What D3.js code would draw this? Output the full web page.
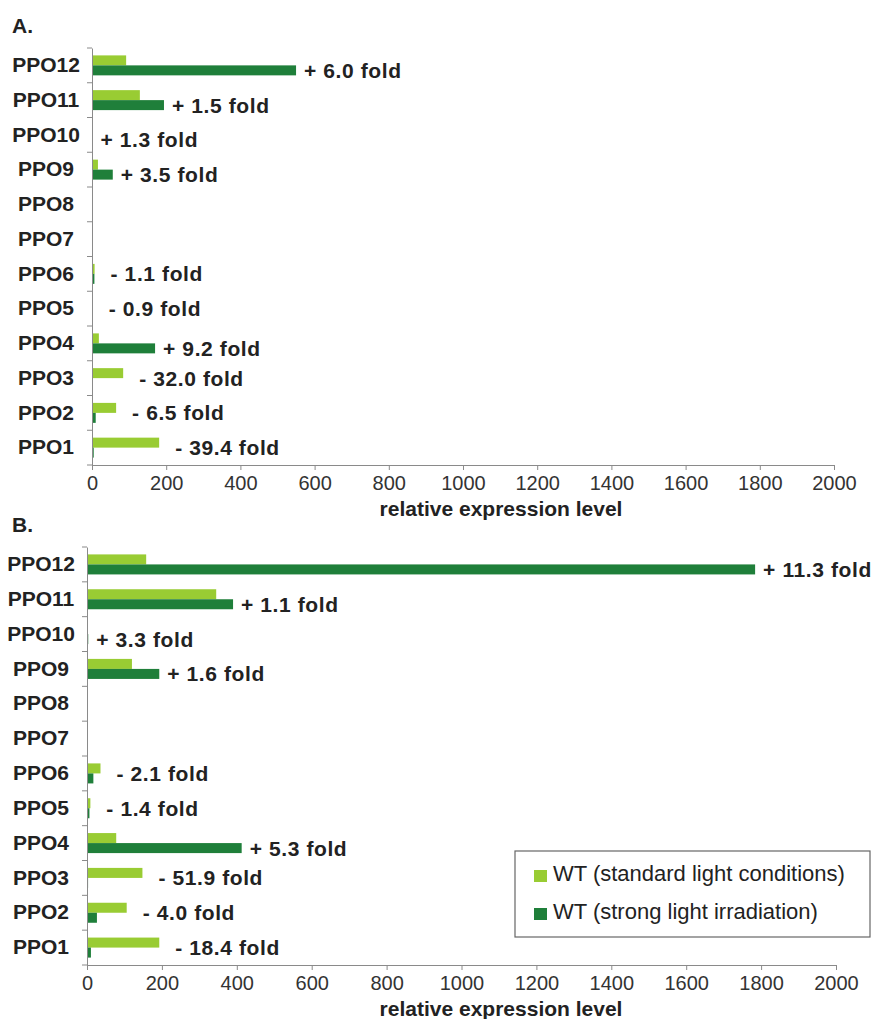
<!DOCTYPE html>
<html>
<head>
<meta charset="utf-8">
<script src="https://cdn.jsdelivr.net/npm/d3@7"></script>
<style>
  body { margin: 0; background: #fff; }
  svg { display: block; font-family: "Liberation Sans", Arial, sans-serif; }
  .axis path, .axis line { stroke: #8a8a8a; }
</style>
</head>
<body>
<div id="container"></div>
<script>
/* DATA */
const categories = ["PPO1", "PPO2", "PPO3", "PPO4", "PPO5", "PPO6",
                    "PPO7", "PPO8", "PPO9", "PPO10", "PPO11", "PPO12"];
const series = ["WT (standard light conditions)", "WT (strong light irradiation)"];

// panel A
const standardA = [181, 65, 84, 18.5, 2, 7, 0, 0, 16, 1, 129, 92];
const strongA   = [4.6, 10, 2.6, 170, 2.2, 6.5, 0, 0, 56, 1.3, 194, 550];
const foldA     = [-39.4, -6.5, -32.0, 9.2, -0.9, -1.1, null, null, 3.5, 1.3, 1.5, 6.0];

// panel B
const standardB = [193, 106, 148, 78, 9, 36, 0, 0, 120, 1, 345, 158];
const strongB   = [10.5, 26.5, 2.85, 413, 6.5, 17, 0, 0, 193, 3.3, 390, 1784];
const foldB     = [-18.4, -4.0, -51.9, 5.3, -1.4, -2.1, null, null, 1.6, 3.3, 1.1, 11.3];

const xTicks = [0, 200, 400, 600, 800, 1000, 1200, 1400, 1600, 1800, 2000];
const xTitle = "relative expression level";

/* CONSTANTS */
const width = 873,
      height = 1019;
const colors = ["#99cc33", "#1f7f3a"];
const textColor = "#222";

const colorScale = d3.scaleOrdinal().domain(series).range(colors);

const svg = d3.select("#container")
  .append("svg")
  .attr("width", width)
  .attr("height", height);

const drawPanel = (p) => {
  const rows = categories.map((c, i) => ({
    cat: c,
    values: [p.standard[i], p.strong[i]],
    fold: p.fold[i]
  }));

  const xScale = d3.scaleLinear()
    .domain([0, 2000])
    .range([p.left, p.right]);

  // PPO12 on top
  const yScale = d3.scaleBand()
    .domain(categories.slice().reverse())
    .range([p.top, p.bottom]);

  const ySub = d3.scaleBand()
    .domain(series)
    .range([0, yScale.bandwidth()])
    .paddingInner(0)
    .paddingOuter(0.74);

  const g = svg.append("g");

  // panel letter
  g.append("text")
    .attr("x", 12)
    .attr("y", p.top - 15)
    .attr("font-size", 21)
    .attr("font-weight", "bold")
    .attr("fill", textColor)
    .text(p.letter);

  // bars
  g.selectAll(".row")
    .data(rows)
    .join("g")
      .attr("class", "row")
      .attr("transform", d => `translate(0, ${yScale(d.cat)})`)
    .selectAll("rect")
    .data(d => d.values.map((v, k) => ({ key: series[k], value: v })))
    .join("rect")
      .attr("x", xScale(0))
      .attr("y", d => ySub(d.key))
      .attr("width", d => xScale(d.value) - xScale(0))
      .attr("height", ySub.bandwidth())
      .attr("fill", d => colorScale(d.key));

  // x axis
  const gx = g.append("g")
    .attr("class", "axis")
    .attr("transform", `translate(0, ${p.bottom})`)
    .call(d3.axisBottom(xScale)
      .tickValues(xTicks)
      .tickFormat(d3.format("d"))
      .tickSizeOuter(0).tickSize(5).tickPadding(6));
  gx.selectAll("text")
    .attr("font-size", 20)
    .attr("font-family", "Liberation Sans, Arial, sans-serif")
    .attr("fill", "#333");

  // y axis: line with ticks on the category borders
  const gy = g.append("g")
    .attr("class", "axis")
    .attr("transform", `translate(${p.left}, 0)`)
    .call(d3.axisLeft(yScale).tickSize(0).tickPadding(0));
  gy.selectAll(".tick text")
    .attr("x", -46)
    .attr("text-anchor", "middle")
    .attr("font-size", 21)
    .attr("font-weight", "bold")
    .attr("font-family", "Liberation Sans, Arial, sans-serif")
    .attr("fill", textColor);
  gy.selectAll(".border")
    .data(categories.concat([null]))
    .join("line")
      .attr("class", "border")
      .attr("x1", -5)
      .attr("x2", 0)
      .attr("y1", (d, i) => p.top + i * yScale.step())
      .attr("y2", (d, i) => p.top + i * yScale.step())
      .attr("stroke", "#8a8a8a");

  // axis title
  g.append("text")
    .attr("x", 501)
    .attr("y", p.bottom + 51)
    .attr("text-anchor", "middle")
    .attr("font-size", 21)
    .attr("font-weight", "bold")
    .attr("fill", textColor)
    .text(xTitle);

  // fold change labels
  g.selectAll(".fold")
    .data(rows.filter(d => d.fold !== null))
    .join("text")
      .attr("class", "fold")
      .attr("x", d => xScale(d3.max(d.values)) + (d.fold > 0 ? 8 : 16))
      .attr("y", d => d.fold > 0
        ? yScale(d.cat) + ySub(series[1]) + ySub.bandwidth() / 2
        : yScale(d.cat) + yScale.bandwidth() / 2)
      .attr("dy", "0.36em")
      .attr("font-size", 21)
      .attr("letter-spacing", 0.6)
      .attr("font-weight", "bold")
      .attr("fill", textColor)
      .text(d => (d.fold > 0 ? "+ " : "- ") + Math.abs(d.fold).toFixed(1) + " fold");
};

drawPanel({ letter: "A.", left: 92, right: 834, top: 48, bottom: 465,
            standard: standardA, strong: strongA, fold: foldA });
drawPanel({ letter: "B.", left: 87, right: 836, top: 547, bottom: 965,
            standard: standardB, strong: strongB, fold: foldB });

/* LEGEND */
const legend = svg.append("g").attr("transform", "translate(515, 851)");
legend.append("rect")
  .attr("width", 355)
  .attr("height", 86)
  .attr("fill", "#fff")
  .attr("stroke", "#666")
  .attr("stroke-width", 1.2);
const items = legend.selectAll(".item")
  .data(series)
  .join("g")
    .attr("class", "item")
    .attr("transform", (d, i) => `translate(19, ${19 + i * 38})`);
items.append("rect")
  .attr("width", 13)
  .attr("height", 12)
  .attr("fill", d => colorScale(d));
items.append("text")
  .attr("x", 19)
  .attr("y", 11)
  .attr("font-size", 22)
  .attr("fill", textColor)
  .text(d => d);
</script>
</body>
</html>
